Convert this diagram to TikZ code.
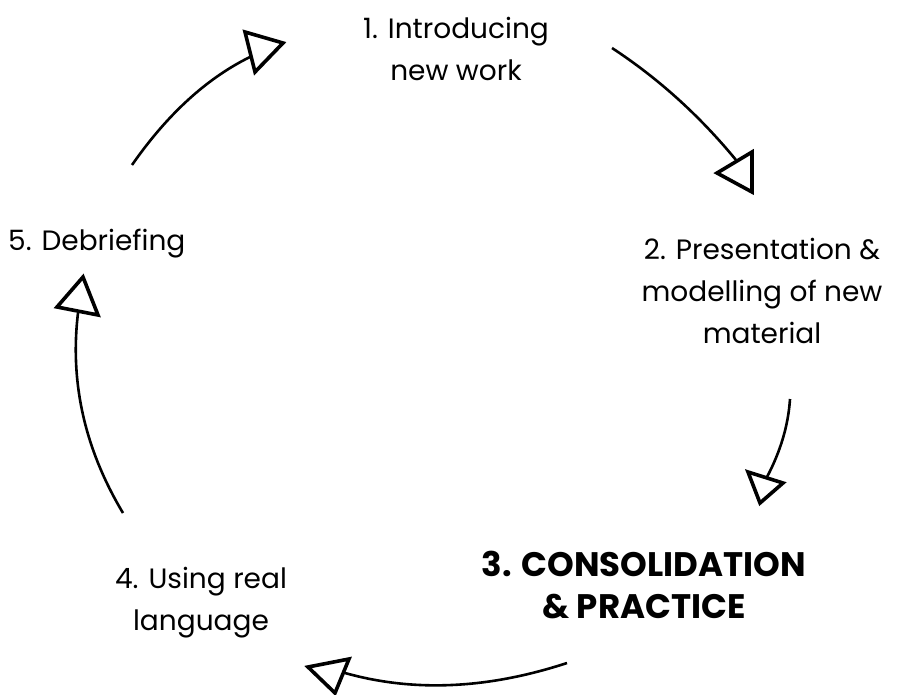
\documentclass[tikz,border=0pt]{standalone}
\usepackage{fontspec}
\setmainfont{Poppins}
\begin{document}
\begin{tikzpicture}[x=1pt,y=-1pt,
  stage/.style={align=center, inner sep=0pt, anchor=base, font=\fontsize{28}{42}\selectfont},
  keystage/.style={stage, font=\fontsize{34}{42}\selectfont\bfseries},
  flow/.style={line width=2.6pt},
  head/.style={line width=3.6pt, fill=white, line join=miter}]
\useasboundingbox (0,0) rectangle (904,695);

% stages of the cycle (base anchor = baseline of the last line)
\node[stage] (s1) at (456,81) {1. Introducing\\new work};
\node[stage] (s2) at (762,343) {2. Presentation \&\\modelling of new\\material};
\node[keystage] (s3) at (644,618) {3. CONSOLIDATION\\\& PRACTICE};
\node[stage] (s4) at (201,630) {4. Using real\\language};
\node[stage, anchor=base west] (s5) at (8,250) {5. Debriefing};

% curved connectors between the stages
\coordinate (a1s) at (612,48);  \coordinate (a1e) at (736,160);
\coordinate (a2s) at (790,399); \coordinate (a2e) at (767,477);
\coordinate (a3s) at (567,663); \coordinate (a3e) at (345,673);
\coordinate (a4s) at (123,513); \coordinate (a4e) at (78,313);
\coordinate (a5s) at (132,165); \coordinate (a5e) at (250,57);

\draw[flow] (a1s) .. controls (657.7,78) and (698.7,114.7) .. (a1e);
\draw[flow] (a2s) .. controls (788.3,425) and (780.7,451) .. (a2e);
\draw[flow] (a3s) .. controls (487.7,689) and (413.7,692.3) .. (a3e);
\draw[flow] (a4s) .. controls (84.7,449) and (69.7,382.3) .. (a4e);
\draw[flow] (a5s) .. controls (167.3,114.3) and (206.7,78.3) .. (a5e);

% open triangular heads
\draw[head] (717,173) -- (752,152) -- (752,192) -- cycle;
\draw[head] (748,472) -- (783,483) -- (760,503) -- cycle;
\draw[head] (308,667) -- (349,659) -- (335,693) -- cycle;
\draw[head] (83,277) -- (57,307) -- (98,315) -- cycle;
\draw[head] (245,32) -- (283,43) -- (255,72) -- cycle;
\end{tikzpicture}
\end{document}
